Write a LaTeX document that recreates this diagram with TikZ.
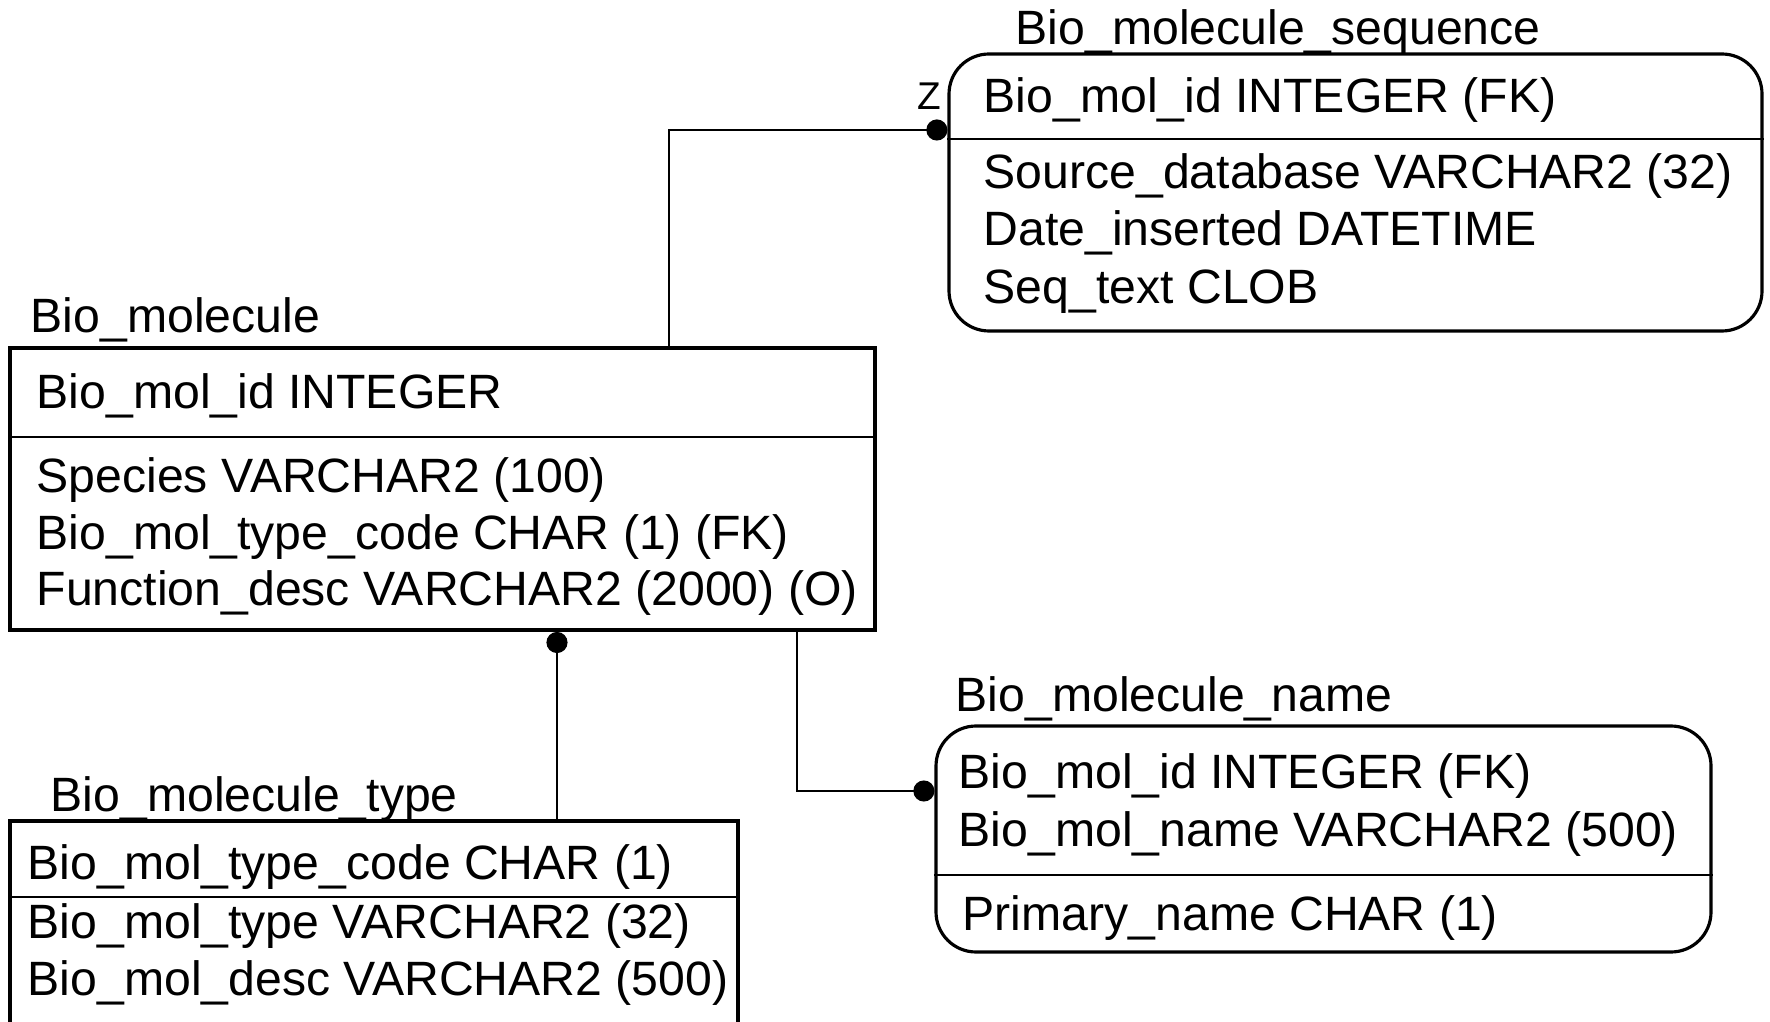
\documentclass[tikz,border=0pt]{standalone}
\usepackage{fontspec}
\setmainfont{Liberation Sans}
\usetikzlibrary{arrows.meta,fit,positioning}

\newcommand{\erfont}{\fontsize{13.7pt}{16pt}\selectfont}

\tikzset{
  table/.style  ={draw,line width=1.1pt,inner sep=0pt},
  view/.style   ={draw,line width=0.9pt,inner sep=0pt,rounded corners=0.4cm},
  divider/.style={line width=0.7pt},
  attr/.style   ={anchor=base west,inner sep=0pt,font=\erfont},
  rel/.style    ={line width=0.6pt},
  dot/.tip      ={Circle[length=6pt]}
}

\begin{document}
\begin{tikzpicture}[x=0.01cm,y=-0.01cm]
  \path[use as bounding box,fill=white] (0,0) rectangle (1770,1022);
  \clip (0,0) rectangle (1770,1022);

  % Tables
  \node (mol)  [table,fit={(10,348) (875,630)}] {};
  \node (type) [table,fit={(10,821) (738,1040)}] {};
  \node (seq)  [view,fit={(949,54) (1762,331)}] {};
  \node (name) [view,fit={(936,726) (1711,952)}] {};

  % Key / non-key dividers
  \draw[divider] (mol.west |- 0,437)  -- (mol.east |- 0,437);
  \draw[divider] (type.west |- 0,897) -- (type.east |- 0,897);
  \draw[divider] (seq.west |- 0,139)  -- (seq.east |- 0,139);
  \draw[divider] (name.west |- 0,875) -- (name.east |- 0,875);

  % Bio_molecule
  \node (moltitle) at (30,333) [attr] {Bio\_molecule};
  \node (mol1) at (36,409) [attr] {Bio\_mol\_id INTEGER};
  \node (mol2) at (36,493) [attr] {Species VARCHAR2 (100)};
  \node (mol3) at (36,550) [attr] {Bio\_mol\_type\_code CHAR (1) (FK)};
  \node (mol4) at (36,606) [attr] {Function\_desc VARCHAR2 (2000) (O)};

  % Bio_molecule_sequence
  \node (seqtitle) at (1015,45) [attr] {Bio\_molecule\_sequence};
  \node (seq1) at (983,113) [attr] {Bio\_mol\_id INTEGER (FK)};
  \node (seq2) at (983,189) [attr] {Source\_database VARCHAR2 (32)};
  \node (seq3) at (983,246) [attr] {Date\_inserted DATETIME};
  \node (seq4) at (983,304) [attr] {Seq\_text CLOB};
  \node (seqz) at (917,110) [attr,font=\fontsize{11pt}{13pt}\selectfont] {Z};

  % Bio_molecule_name
  \node (nametitle) at (955,711) [attr] {Bio\_molecule\_name};
  \node (name1) at (958,788) [attr] {Bio\_mol\_id INTEGER (FK)};
  \node (name2) at (958,846) [attr] {Bio\_mol\_name VARCHAR2 (500)};
  \node (name3) at (962,930) [attr] {Primary\_name CHAR (1)};

  % Bio_molecule_type
  \node (typetitle) at (50,811) [attr] {Bio\_molecule\_type};
  \node (type1) at (27,879) [attr] {Bio\_mol\_type\_code CHAR (1)};
  \node (type2) at (27,938) [attr] {Bio\_mol\_type VARCHAR2 (32)};
  \node (type3) at (27,995) [attr] {Bio\_mol\_desc VARCHAR2 (500)};

  % Relationships
  \draw[rel,-dot] (mol.north -| 669,0) |- (seq.west |- 0,130);
  \draw[rel,dot-] (mol.south -| 557,0) -- (type.north -| 557,0);
  \draw[rel,-dot] (mol.south -| 797,0) |- (name.west |- 0,791);
\end{tikzpicture}
\end{document}
